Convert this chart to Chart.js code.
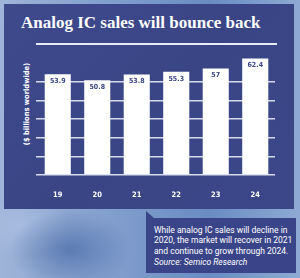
<!DOCTYPE html>
<html>
<head>
<meta charset="utf-8">
<script src="https://cdn.jsdelivr.net/npm/chart.js@4"></script>
<style>
  html, body { margin: 0; padding: 0; }
  body {
    width: 300px; height: 278px; overflow: hidden; position: relative;
    background:
      radial-gradient(ellipse 60px 40px at 70px 250px, rgba(70,105,165,0.7), rgba(70,105,165,0)),
      radial-gradient(ellipse 50px 30px at 20px 225px, rgba(170,190,225,0.8), rgba(170,190,225,0)),
      linear-gradient(90deg, #9fb4d8 0%, #7f9ccc 40%, #6a8cc2 70%, #8eaad4 100%);
  }
  #panel {
    position: absolute; left: 4px; top: 4px; width: 290px; height: 205px;
    background: linear-gradient(135deg, #3e4a8c 0%, #3a4586 50%, #3b4788 100%);
  }
  #title {
    position: absolute; left: 21px; top: 13px; white-space: nowrap;
    font-family: "Liberation Serif", serif; font-weight: bold; font-size: 17px;
    color: #fff;
  }
  #rule {
    position: absolute; left: 36px; top: 43px; width: 241px; height: 1.5px; background: #e8ebf5;
  }
  #ylabel {
    position: absolute; left: 26px; top: 104px; white-space: nowrap;
    transform: translate(-50%, -50%) rotate(-90deg);
    font-family: "DejaVu Sans Condensed", "Liberation Sans Narrow", Roboto, sans-serif;
    font-weight: bold; font-size: 7.5px; color: #fff;
  }
  #box {
    position: absolute; left: 146px; top: 218px; width: 150px; height: 55px;
    background: #3a4589;
  }
  #tail {
    position: absolute; left: 146px; top: 211px; width: 0; height: 0;
    border-left: 8px solid #3a4589; border-top: 7px solid transparent;
  }
  #note {
    position: absolute; left: 154px; top: 224.5px; white-space: nowrap;
    font-family: Roboto, sans-serif; font-size: 8.5px; line-height: 10.7px; color: #fff;
    transform-origin: 0 0;
  }
  #wrap { position: absolute; left: 0; top: 0; width: 300px; height: 278px; }
</style>
</head>
<body>
<div id="panel"></div>
<div id="title">Analog IC sales will bounce back</div>
<div id="rule"></div>
<div id="ylabel">($ billions worldwide)</div>
<div id="tail"></div>
<div id="box"></div>
<div id="note">While analog IC sales will decline in<br>2020, the market will recover in 2021<br>and continue to grow through 2024.<br><i>Source: Semico Research</i></div>
<div id="wrap"><canvas id="chart"></canvas></div>
<script>
const years = ["19", "20", "21", "22", "23", "24"];
const sales = [53.9, 50.8, 53.8, 55.3, 57, 62.4];
const valueLabels = ["53.9", "50.8", "53.8", "55.3", "57", "62.4"];

const condensed = "'DejaVu Sans Condensed', 'Liberation Sans Narrow', Roboto, sans-serif";

// numbers printed inside the top of each bar
const barValues = {
	id: "barValues",
	afterDatasetsDraw(chart) {
		const ctx = chart.ctx;
		const meta = chart.getDatasetMeta(0);
		ctx.save();
		ctx.fillStyle = "#3b4687";
		ctx.font = "bold 7px " + condensed;
		ctx.textAlign = "center";
		ctx.textBaseline = "middle";
		meta.data.forEach((bar, i) => {
			ctx.fillText(valueLabels[i], bar.x, bar.y + 7);
		});
		ctx.restore();
	},
};

const ctx = document.getElementById("chart");
new Chart(ctx, {
	type: "bar",
	data: {
		labels: years,
		datasets: [
			{
				data: sales,
				backgroundColor: "#ffffff",
				borderWidth: 0,
				barPercentage: 0.66,
				categoryPercentage: 1,
			},
		],
	},
	options: {
		responsive: true,
		maintainAspectRatio: false,
		animation: false,
		layout: {
			padding: { top: 55.5, left: 0, right: 25, bottom: 0 },
		},
		plugins: {
			legend: { display: false },
			tooltip: { enabled: false },
		},
		scales: {
			x: {
				grid: { display: false },
				border: { display: false },
				ticks: {
					color: "#ffffff",
					font: { family: condensed, weight: "bold", size: 7.5 },
					padding: 8,
				},
				afterFit: (scale) => {
					scale.height = 103;
				},
			},
			y: {
				min: 0,
				max: 64,
				ticks: { display: false, stepSize: 10 },
				afterBuildTicks: (scale) => {
					scale.ticks = scale.ticks.filter((t) => t.value <= 60);
				},
				grid: {
					color: "rgba(232, 236, 247, 0.9)",
					lineWidth: 1.5,
					drawTicks: true,
					tickLength: 2,
				},
				border: { display: false },
				afterFit: (scale) => {
					scale.width = 38;
				},
			},
		},
	},
	plugins: [barValues],
});
</script>
</body>
</html>
